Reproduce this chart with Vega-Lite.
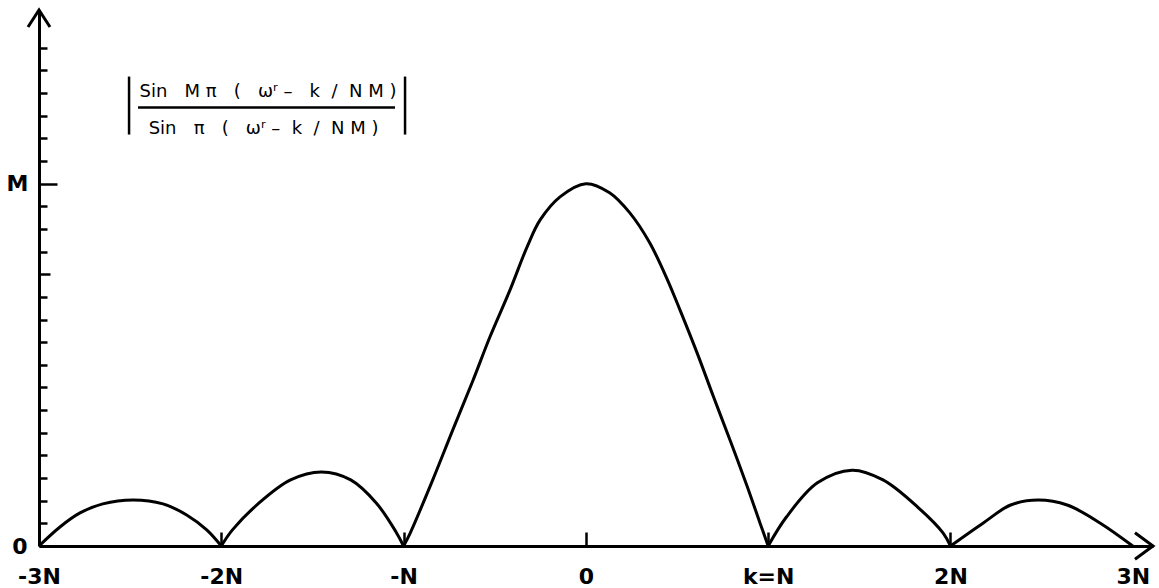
{
  "$schema": "https://vega.github.io/schema/vega-lite/v6.json",
  "width": 1114,
  "height": 536,
  "autosize": {"type": "none"},
  "padding": {"left": 39, "top": 10, "right": 6, "bottom": 42},
  "background": "white",
  "config": {
    "view": {"stroke": null},
    "axis": {
      "grid": false,
      "title": null,
      "domainColor": "black",
      "domainWidth": 3,
      "tickColor": "black",
      "tickWidth": 2.5,
      "labelColor": "black",
      "labelFont": "DejaVu Sans",
      "labelFontWeight": "bold",
      "labelFontSize": 22,
      "labelOverlap": false,
      "labelFlush": false,
      "labelBound": false
    }
  },
  "datasets": {
    "curve": [
      {"lobe": "a", "x": -3, "y": 0},
      {"lobe": "a", "x": -2.885, "y": 0.84},
      {"lobe": "a", "x": -2.775, "y": 1.46},
      {"lobe": "a", "x": -2.65, "y": 1.86},
      {"lobe": "a", "x": -2.484, "y": 2.03},
      {"lobe": "a", "x": -2.32, "y": 1.86},
      {"lobe": "a", "x": -2.19, "y": 1.37},
      {"lobe": "a", "x": -2.08, "y": 0.71},
      {"lobe": "a", "x": -2, "y": 0},
      {"lobe": "b", "x": -2, "y": 0},
      {"lobe": "b", "x": -1.94, "y": 0.7},
      {"lobe": "b", "x": -1.8, "y": 1.85},
      {"lobe": "b", "x": -1.62, "y": 2.92},
      {"lobe": "b", "x": -1.45, "y": 3.27},
      {"lobe": "b", "x": -1.29, "y": 2.92},
      {"lobe": "b", "x": -1.15, "y": 1.9},
      {"lobe": "b", "x": -1.04, "y": 0.6},
      {"lobe": "b", "x": -1, "y": 0},
      {"lobe": "c", "x": -1, "y": 0},
      {"lobe": "c", "x": -0.965, "y": 0.55},
      {"lobe": "c", "x": -0.84, "y": 2.92},
      {"lobe": "c", "x": -0.73, "y": 5.13},
      {"lobe": "c", "x": -0.62, "y": 7.3},
      {"lobe": "c", "x": -0.526, "y": 9.24},
      {"lobe": "c", "x": -0.416, "y": 11.31},
      {"lobe": "c", "x": -0.323, "y": 13.2},
      {"lobe": "c", "x": -0.25, "y": 14.41},
      {"lobe": "c", "x": -0.14, "y": 15.43},
      {"lobe": "c", "x": 0, "y": 16},
      {"lobe": "c", "x": 0.13, "y": 15.6},
      {"lobe": "c", "x": 0.24, "y": 14.72},
      {"lobe": "c", "x": 0.35, "y": 13.39},
      {"lobe": "c", "x": 0.445, "y": 11.8},
      {"lobe": "c", "x": 0.516, "y": 10.43},
      {"lobe": "c", "x": 0.61, "y": 8.53},
      {"lobe": "c", "x": 0.7, "y": 6.59},
      {"lobe": "c", "x": 0.79, "y": 4.69},
      {"lobe": "c", "x": 0.884, "y": 2.65},
      {"lobe": "c", "x": 0.955, "y": 1.02},
      {"lobe": "c", "x": 1, "y": 0},
      {"lobe": "d", "x": 1, "y": 0},
      {"lobe": "d", "x": 1.1, "y": 1.28},
      {"lobe": "d", "x": 1.27, "y": 2.79},
      {"lobe": "d", "x": 1.46, "y": 3.35},
      {"lobe": "d", "x": 1.63, "y": 2.92},
      {"lobe": "d", "x": 1.82, "y": 1.72},
      {"lobe": "d", "x": 1.96, "y": 0.57},
      {"lobe": "d", "x": 2, "y": 0},
      {"lobe": "e", "x": 2, "y": 0},
      {"lobe": "e", "x": 2.18, "y": 1.02},
      {"lobe": "e", "x": 2.33, "y": 1.81},
      {"lobe": "e", "x": 2.48, "y": 2.03},
      {"lobe": "e", "x": 2.64, "y": 1.81},
      {"lobe": "e", "x": 2.82, "y": 1.02},
      {"lobe": "e", "x": 3, "y": 0}
    ],
    "formula": [
      {"x": -1.744, "y": 19.85, "t": "Sin\u00a0\u00a0\u00a0M\u00a0π\u00a0\u00a0\u00a0(\u00a0\u00a0\u00a0ωʳ\u00a0–\u00a0\u00a0\u00a0k\u00a0\u00a0/\u00a0\u00a0N\u00a0M\u00a0)"},
      {"x": -1.768, "y": 18.21, "t": "Sin\u00a0\u00a0\u00a0π\u00a0\u00a0\u00a0(\u00a0\u00a0\u00a0ωʳ\u00a0–\u00a0\u00a0k\u00a0\u00a0/\u00a0\u00a0N\u00a0M\u00a0)"}
    ],
    "fractionBar": [
      {"x": -2.457, "x2": -1.047, "y": 19.36}
    ],
    "absBars": [
      {"x": -2.506, "y": 18.17, "y2": 20.73},
      {"x": -0.992, "y": 18.17, "y2": 20.73}
    ],
    "yTip": [{"x": -3, "y": 23.67}],
    "xTip": [{"x": 3.111, "y": 0}]
  },
  "layer": [
    {
      "data": {"name": "curve"},
      "mark": {"type": "line", "interpolate": "catmull-rom", "color": "black", "strokeWidth": 3, "strokeJoin": "round"},
      "encoding": {
        "x": {
          "field": "x",
          "type": "quantitative",
          "scale": {"domain": [-3, 3.111], "nice": false, "zero": false},
          "axis": {
            "values": [-3, -2, -1, 0, 1, 2, 3],
            "labelExpr": "datum.value == -3 ? '-3N' : datum.value == -2 ? '-2N' : datum.value == -1 ? '-N' : datum.value == 0 ? '0' : datum.value == 1 ? 'k=N' : datum.value == 2 ? '2N' : '3N'",
            "tickSize": -14,
            "tickOpacity": {"condition": {"test": "abs(datum.value) == 3", "value": 0}, "value": 1},
            "labelPadding": 34,
            "labelBaseline": "top"
          }
        },
        "y": {
          "field": "y",
          "type": "quantitative",
          "scale": {"domain": [0, 23.67], "nice": false, "zero": true},
          "axis": {
            "values": [0, 1, 2, 3, 4, 5, 6, 7, 8, 9, 10, 11, 12, 13, 14, 15, 16, 17, 18, 19, 20, 21, 22],
            "tickCount": 40,
            "labelExpr": "datum.value == 16 ? 'M' : datum.value == 0 ? '0' : ''",
            "tickSize": {"condition": [{"test": "datum.value == 16", "value": -18}, {"test": "datum.value == 12", "value": -11}], "value": -8},
            "labelPadding": {"condition": {"test": "datum.value == 16", "value": 29}, "value": 20},
            "labelBaseline": "middle"
          }
        },
        "detail": {"field": "lobe"}
      }
    },
    {
      "data": {"name": "fractionBar"},
      "mark": {"type": "rule", "color": "black", "strokeWidth": 2.5},
      "encoding": {
        "x": {"field": "x", "type": "quantitative"},
        "x2": {"field": "x2"},
        "y": {"field": "y", "type": "quantitative"}
      }
    },
    {
      "data": {"name": "absBars"},
      "mark": {"type": "rule", "color": "black", "strokeWidth": 2.5},
      "encoding": {
        "x": {"field": "x", "type": "quantitative"},
        "y": {"field": "y", "type": "quantitative"},
        "y2": {"field": "y2"}
      }
    },
    {
      "data": {"name": "formula"},
      "mark": {"type": "text", "font": "DejaVu Sans", "fontSize": 18, "align": "center", "baseline": "alphabetic", "color": "black"},
      "encoding": {
        "x": {"field": "x", "type": "quantitative"},
        "y": {"field": "y", "type": "quantitative"},
        "text": {"field": "t"}
      }
    },
    {
      "data": {"name": "yTip"},
      "mark": {"type": "point", "shape": "M-1,1.55L0,0L1,1.55", "size": 484, "filled": false, "stroke": "black", "strokeWidth": 3, "opacity": 1},
      "encoding": {
        "x": {"field": "x", "type": "quantitative"},
        "y": {"field": "y", "type": "quantitative"}
      }
    },
    {
      "data": {"name": "xTip"},
      "mark": {"type": "point", "shape": "M-1.64,-1.2L0,0L-1.64,1.2", "size": 484, "filled": false, "stroke": "black", "strokeWidth": 3, "opacity": 1},
      "encoding": {
        "x": {"field": "x", "type": "quantitative"},
        "y": {"field": "y", "type": "quantitative"}
      }
    }
  ]
}
